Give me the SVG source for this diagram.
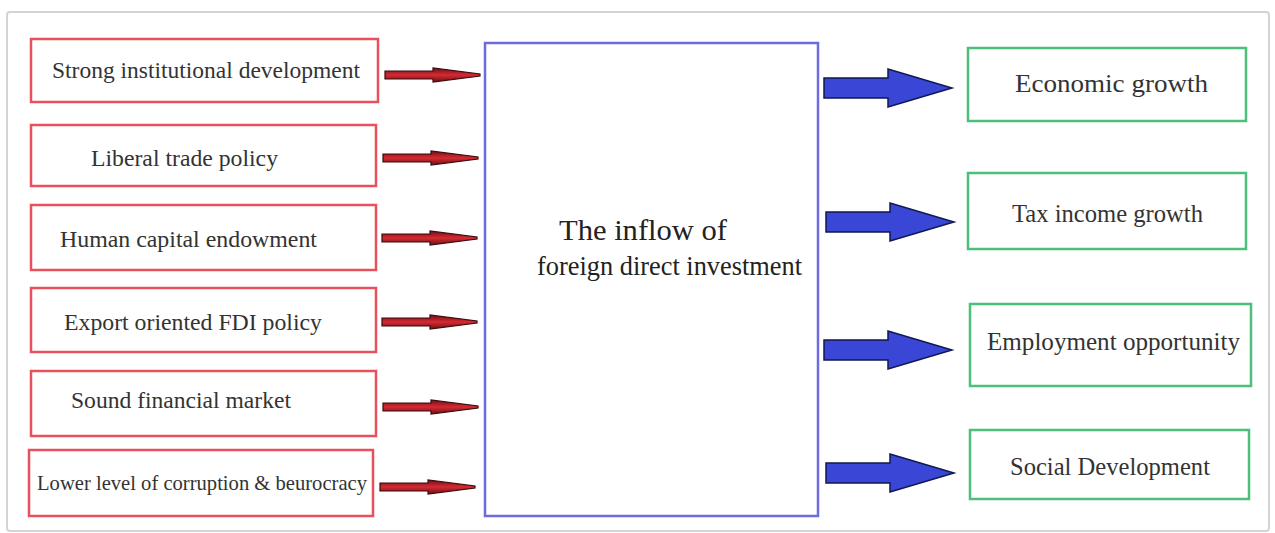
<svg xmlns="http://www.w3.org/2000/svg" width="1275" height="533" viewBox="0 0 1275 533">
<style>
.frame{fill:#ffffff;stroke:#d4d4d4;stroke-width:2}
.lbox{fill:#ffffff;stroke:#e8505c;stroke-width:2.5}
.rbox{fill:#ffffff;stroke:#4cbf7a;stroke-width:2.5}
.cbox{fill:#ffffff;stroke:#6c6ce0;stroke-width:2.5}
.t{font-family:"Liberation Serif","Times New Roman",serif;fill:#333333}
.ls{font-size:23px}
.rs{font-size:26px}
.cs{font-size:29px;fill:#222222}
.ra{fill:url(#redg);stroke:#3a0a0c;stroke-width:1.2}
.ba{fill:#3a46d6;stroke:#101850;stroke-width:1.5}
</style>
<defs>
<linearGradient id="redg" x1="0" y1="0" x2="0" y2="1">
<stop offset="0" stop-color="#6e1014"/>
<stop offset="0.5" stop-color="#d62a34"/>
<stop offset="1" stop-color="#6e1014"/>
</linearGradient>
<path id="redArrow" d="M0,-4 L48,-4 L48,-7 L95,-1 L95,1 L48,7 L48,4 L0,4 Z"/>
<path id="blueArrow" d="M0,-10 L64,-10 L64,-19 L128,0 L64,19 L64,10 L0,10 Z"/>
</defs>
<rect width="1275" height="533" fill="#ffffff"/>
<rect class="frame" x="7" y="12" width="1262" height="519" rx="3"/>

<g id="n-strong">
<rect class="lbox" x="31" y="39" width="347" height="63"/>
<text class="t ls" x="52" y="78" textLength="308" lengthAdjust="spacingAndGlyphs">Strong institutional development</text>
</g>
<g id="n-liberal">
<rect class="lbox" x="31" y="125" width="345" height="61"/>
<text class="t ls" x="91" y="166" textLength="187" lengthAdjust="spacingAndGlyphs">Liberal trade policy</text>
</g>
<g id="n-human">
<rect class="lbox" x="31" y="205" width="345" height="65"/>
<text class="t ls" x="60" y="247" textLength="257" lengthAdjust="spacingAndGlyphs">Human capital endowment</text>
</g>
<g id="n-export">
<rect class="lbox" x="31" y="288" width="345" height="64"/>
<text class="t ls" x="64" y="330" textLength="258" lengthAdjust="spacingAndGlyphs">Export oriented FDI policy</text>
</g>
<g id="n-sound">
<rect class="lbox" x="31" y="371" width="345" height="65"/>
<text class="t ls" x="71" y="408" textLength="220" lengthAdjust="spacingAndGlyphs">Sound financial market</text>
</g>
<g id="n-lower">
<rect class="lbox" x="29" y="450" width="344" height="66"/>
<text class="t" style="font-size:21px" x="37" y="490" textLength="330" lengthAdjust="spacingAndGlyphs">Lower level of corruption &amp; beurocracy</text>
</g>

<g id="n-fdi">
<rect class="cbox" x="485" y="43" width="333" height="473"/>
<text class="t cs" x="559" y="240" textLength="168" lengthAdjust="spacingAndGlyphs">The inflow of</text>
<text class="t" style="font-size:28px;fill:#222222" x="537" y="275" textLength="265" lengthAdjust="spacingAndGlyphs">foreign direct investment</text>
</g>

<g id="n-econ">
<rect class="rbox" x="968" y="48" width="278" height="73"/>
<text class="t rs" x="1015" y="92" textLength="193" lengthAdjust="spacingAndGlyphs">Economic growth</text>
</g>
<g id="n-tax">
<rect class="rbox" x="968" y="173" width="278" height="76"/>
<text class="t rs" x="1012" y="222" textLength="191" lengthAdjust="spacingAndGlyphs">Tax income growth</text>
</g>
<g id="n-employ">
<rect class="rbox" x="970" y="304" width="281" height="82"/>
<text class="t rs" x="987" y="350" textLength="253" lengthAdjust="spacingAndGlyphs">Employment opportunity</text>
</g>
<g id="n-social">
<rect class="rbox" x="970" y="430" width="279" height="69"/>
<text class="t rs" x="1010" y="475" textLength="200" lengthAdjust="spacingAndGlyphs">Social Development</text>
</g>

<g id="connectors">
<use href="#redArrow" class="ra" transform="translate(385,75)"/>
<use href="#redArrow" class="ra" transform="translate(383,158)"/>
<use href="#redArrow" class="ra" transform="translate(382,238)"/>
<use href="#redArrow" class="ra" transform="translate(382,322)"/>
<use href="#redArrow" class="ra" transform="translate(383,407)"/>
<use href="#redArrow" class="ra" transform="translate(380,487)"/>
<use href="#blueArrow" class="ba" transform="translate(824,88)"/>
<use href="#blueArrow" class="ba" transform="translate(826,222)"/>
<use href="#blueArrow" class="ba" transform="translate(824,350)"/>
<use href="#blueArrow" class="ba" transform="translate(826,473)"/>
</g>
</svg>
